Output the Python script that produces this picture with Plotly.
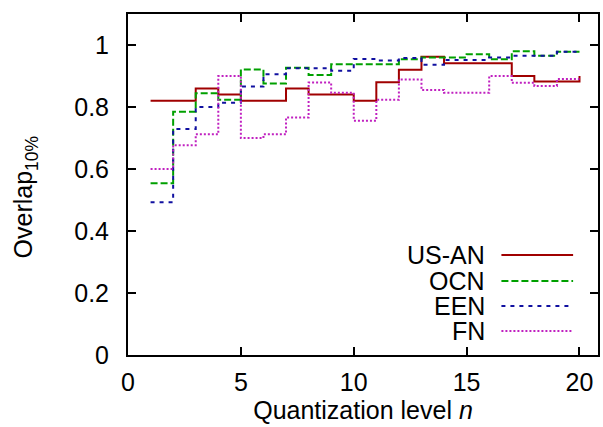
import plotly.graph_objects as go

n = list(range(1, 21))
us_an = [0.82, 0.82, 0.86, 0.84, 0.82, 0.82, 0.86, 0.84, 0.84, 0.82,
         0.88, 0.92, 0.962, 0.941, 0.941, 0.941, 0.90, 0.882, 0.882, 0.90]
ocn = [0.554, 0.785, 0.844, 0.823, 0.921, 0.876, 0.927, 0.903, 0.938, 0.938,
       0.938, 0.954, 0.96, 0.96, 0.97, 0.954, 0.98, 0.965, 0.978, 0.978]
een = [0.493, 0.729, 0.80, 0.814, 0.866, 0.906, 0.925, 0.925, 0.917, 0.955,
       0.95, 0.958, 0.936, 0.952, 0.952, 0.96, 0.965, 0.965, 0.978, 0.978]
fn = [0.60, 0.677, 0.712, 0.90, 0.70, 0.712, 0.766, 0.879, 0.846, 0.756,
      0.823, 0.889, 0.855, 0.846, 0.846, 0.90, 0.878, 0.868, 0.89, 0.89]

names = ["US-AN", "OCN", "EEN", "FN"]
series = [us_an, ocn, een, fn]
colors = ["#a00000", "#00a000", "#1010a0", "#c020c0"]
dashes = ["solid", "7px,3px", "4px,5px", "2px,2px"]

FONT = "Liberation Sans, Arial, Helvetica, sans-serif"
FS = 25

fig = go.Figure()
for name, ys, c, d in zip(names, series, colors, dashes):
    fig.add_trace(go.Scatter(x=n, y=ys, mode="lines", name=name,
                             line=dict(color=c, width=2, dash=d, shape="hv"),
                             showlegend=False))

# manual gnuplot-style legend
L, R, T, B = 128, 3, 14, 72
W, H = 603 - L - R, 427 - T - B
def px(p):
    return (p - L) / W
def py(p):
    return (427 - B - p) / H

rows = [255, 281, 306, 331]
for name, c, d, yy in zip(names, colors, dashes, rows):
    fig.add_annotation(x=px(488), y=py(yy), xref="paper", yref="paper",
                       text=name, showarrow=False, xanchor="right", yanchor="middle",
                       borderpad=0,
                       font=dict(size=FS, color="black", family=FONT))
    fig.add_shape(type="line", xref="paper", yref="paper",
                  x0=px(503), x1=px(575), y0=py(yy), y1=py(yy),
                  line=dict(color=c, width=2, dash=d))

# y-axis title (gnuplot places it slightly below centre)
fig.add_annotation(x=px(25), y=py(197), xref="paper", yref="paper",
                   text="Overlap<sub>10%</sub>", showarrow=False, textangle=-90,
                   xanchor="center", yanchor="middle",
                   font=dict(size=FS, color="black", family=FONT))

axis_common = dict(showline=True, linecolor="black", linewidth=2, mirror="ticks",
                   ticks="inside", ticklen=8, tickwidth=2, tickcolor="black",
                   showgrid=False, zeroline=False,
                   tickfont=dict(size=FS, color="black", family=FONT))

fig.update_xaxes(range=[0, 20.82], tickvals=[0, 5, 10, 15, 20], ticklabelstandoff=4,
                 title=dict(text="Quantization level <i>n</i>", standoff=2,
                            font=dict(size=FS, color="black", family=FONT)),
                 **axis_common)
fig.update_yaxes(range=[0, 1.1], tickvals=[0, 0.2, 0.4, 0.6, 0.8, 1],
                 ticktext=["0", "0.2", "0.4", "0.6", "0.8", "1"], ticklabelstandoff=12,
                 **axis_common)

fig.update_layout(width=603, height=427, margin=dict(l=L, r=R, t=T, b=B),
                  plot_bgcolor="white", paper_bgcolor="white",
                  font=dict(family=FONT, color="black"))

fig.write_html("out.html")
